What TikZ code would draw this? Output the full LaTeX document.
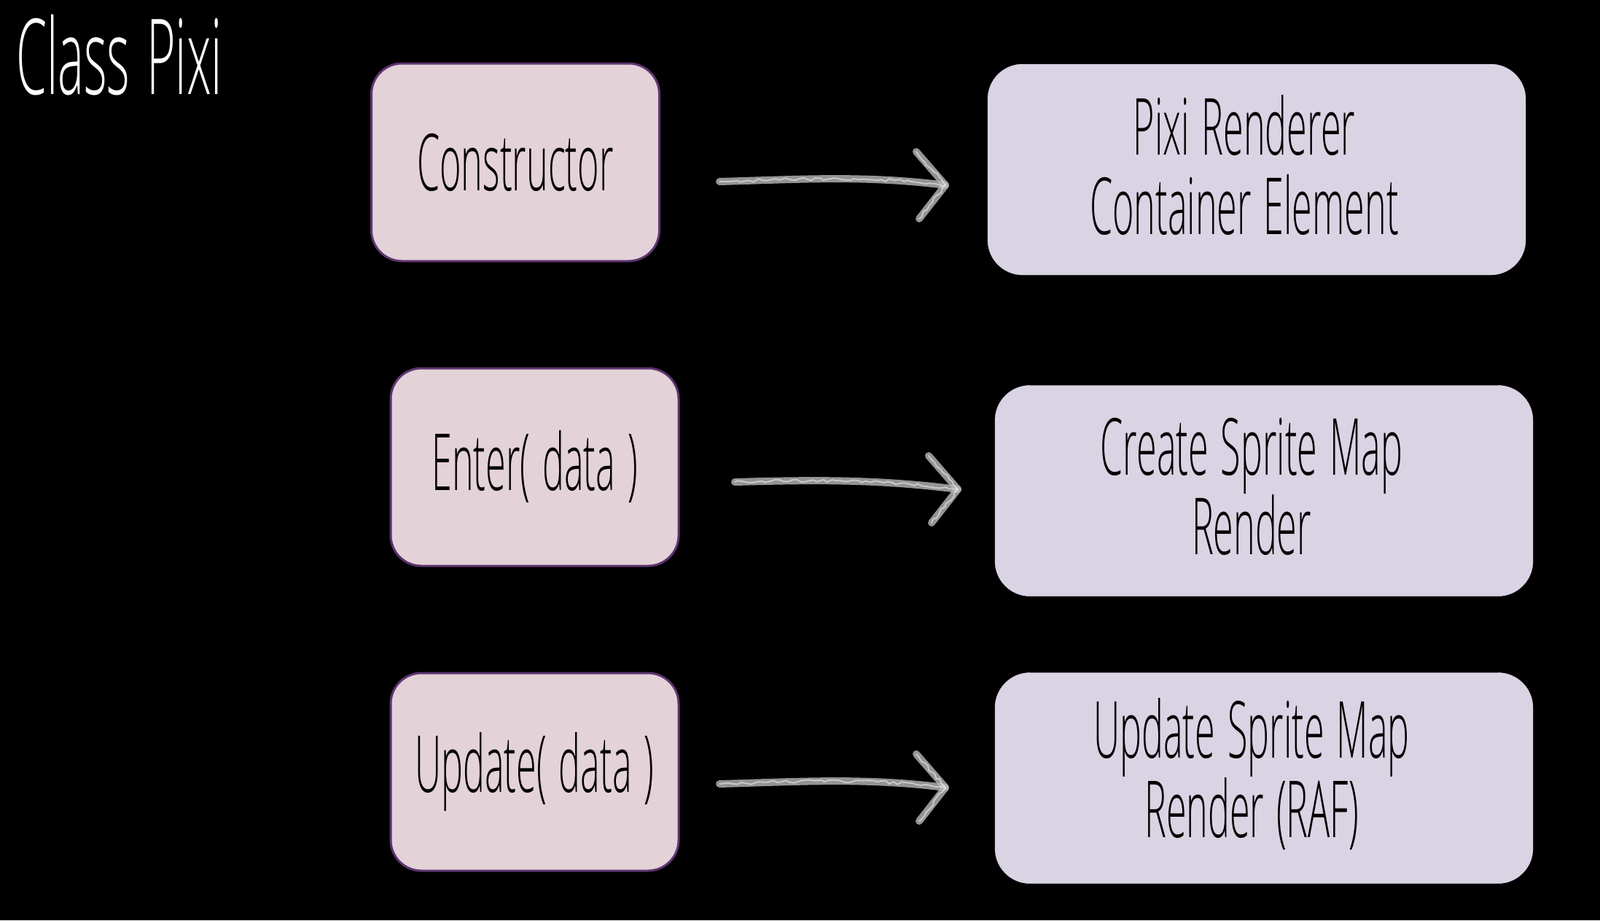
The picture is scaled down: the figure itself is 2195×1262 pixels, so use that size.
\documentclass[tikz,border=0pt]{standalone}
\usepackage{fontspec}
\usetikzlibrary{calc,decorations.pathmorphing}
\newfontfamily\hand[FakeStretch=0.465,WordSpace=1.3]{Open Sans Light}
\newfontfamily\handtitle[FakeStretch=0.47,WordSpace=1.3]{Open Sans Light}
\definecolor{lfill}{RGB}{227,210,216}
\definecolor{lborder}{RGB}{94,52,112}
\definecolor{rfill}{RGB}{218,211,227}
\definecolor{chalkc}{RGB}{185,185,185}
\tikzset{
  leftbox/.style={draw=lborder, line width=3pt, fill=lfill, rounded corners=42pt,
    minimum width=395pt, minimum height=271pt, inner sep=0pt, align=center,
    font=\hand\fontsize{108}{109}\selectfont},
  rightbox/.style={draw=rfill, fill=rfill, rounded corners=48pt,
    minimum width=738pt, minimum height=289pt, inner sep=0pt},
  righttext/.style={inner sep=0pt, align=center, font=\hand\fontsize{108}{109}\selectfont},
  chalk/.style={draw=chalkc, line width=10pt, line cap=round, line join=round, opacity=0.8},
  chalkfine/.style={draw=white!85!gray, line width=2pt, line cap=round, opacity=0.6,
    decorate, decoration={random steps, segment length=6pt, amplitude=2pt}},
}
\begin{document}
\begin{tikzpicture}[x=1pt,y=-1pt]
\fill[black] (0,0) rectangle (2195,1262);
\useasboundingbox (0,0) rectangle (2195,1262);

\node[anchor=base west, inner sep=0pt, text=white, font=\handtitle\fontsize{144}{150}\selectfont] (title) at (22,129) {Class Pixi};

\node[leftbox] (ctor) at (707,222.5) {Constructor};
\node[leftbox] (enter) at (733.5,640.5) {\raisebox{-4pt}{Enter( data )}};
\node[leftbox] (update) at (733.5,1058.5) {Update( data )};

\node[rightbox] (r1) at (1724,232.5) {};
\node[rightbox] (r2) at (1734,673) {};
\node[rightbox] (r3) at (1734,1067) {};
\node[righttext] (r1t) at ($(r1.center)+(-17,-6)$) {Pixi Renderer\\Container Element};
\node[righttext] (r2t) at ($(r2.center)+(-17,-6)$) {Create Sprite Map\\Render};
\node[righttext] (r3t) at ($(r3.center)+(-17,-6)$) {Update Sprite Map\\Render (RAF)};

\coordinate (a1s) at (987,249);
\coordinate (a1e) at (1297,254);
\coordinate (a2s) at (1008,661);
\coordinate (a2e) at (1314,671);
\coordinate (a3s) at (987,1075);
\coordinate (a3e) at (1297,1080);

\foreach \s/\e in {a1s/a1e,a2s/a2e,a3s/a3e}{
  \draw[chalk] (\s) .. controls ($(\s)+(110,-3)$) and ($(\e)+(-110,-14)$) .. (\e);
  \draw[chalk] ($(\e)+(-40,-46)$) -- (\e) -- ($(\e)+(-36,46)$);
  \draw[chalkfine] (\s) .. controls ($(\s)+(110,-3)$) and ($(\e)+(-110,-14)$) .. (\e);
  \draw[chalkfine] ($(\e)+(-40,-46)$) -- (\e) -- ($(\e)+(-36,46)$);
}
\end{tikzpicture}
\end{document}
